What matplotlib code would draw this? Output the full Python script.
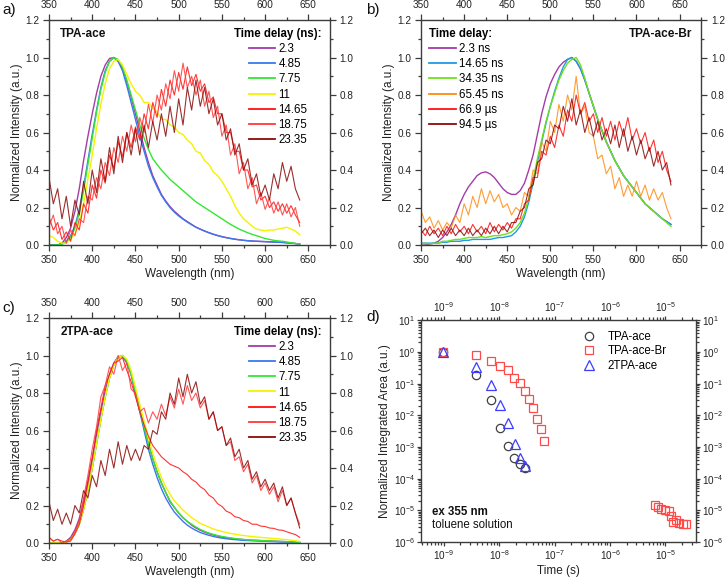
"""
Time-resolved emission spectra (a-c) and integrated area decays (d)
"""

# Imports
import matplotlib
matplotlib.use("Agg")
import matplotlib.pyplot as plt
from matplotlib.ticker import MultipleLocator, LogLocator, NullFormatter

plt.rcParams['font.family'] = ['Liberation Sans', 'DejaVu Sans']
plt.rcParams['mathtext.default'] = 'regular'
plt.rcParams['axes.unicode_minus'] = False

# Data ##################################################################################################################
WAVELENGTH = list(range(350, 645, 5))  # nm, 350 ... 640

# Panel a - TPA-ace
A_LABELS = ["2.3", "4.85", "7.75", "11", "14.65", "18.75", "23.35"]
A_2p3 = [0, 0, 0, 0.01, 0.04, 0.09, 0.18, 0.30, 0.45, 0.58,
         0.70, 0.81, 0.90, 0.96, 0.995, 1.0, 0.98, 0.94, 0.87, 0.79,
         0.70, 0.61, 0.52, 0.44, 0.37, 0.32, 0.27, 0.235, 0.205, 0.18,
         0.16, 0.14, 0.125, 0.11, 0.095, 0.085, 0.075, 0.066, 0.058, 0.051,
         0.045, 0.04, 0.035, 0.031, 0.028, 0.025, 0.023, 0.021, 0.02, 0.019,
         0.018, 0.017, 0.016, 0.015, 0.014, 0.012, 0.01, 0.008, 0.005]
A_4p85 = [0, 0, 0, 0.005, 0.02, 0.05, 0.10, 0.19, 0.31, 0.45,
          0.59, 0.72, 0.84, 0.93, 0.98, 1.0, 0.98, 0.93, 0.85, 0.76,
          0.67, 0.58, 0.50, 0.42, 0.36, 0.31, 0.265, 0.23, 0.20, 0.175,
          0.155, 0.138, 0.122, 0.108, 0.095, 0.084, 0.074, 0.065, 0.057, 0.05,
          0.044, 0.039, 0.035, 0.031, 0.028, 0.025, 0.023, 0.021, 0.02, 0.019,
          0.018, 0.017, 0.016, 0.015, 0.014, 0.012, 0.01, 0.008, 0.005]
A_7p75 = [0, 0, 0, 0.005, 0.015, 0.04, 0.09, 0.17, 0.29, 0.43,
          0.57, 0.71, 0.83, 0.92, 0.98, 1.0, 0.99, 0.95, 0.88, 0.80,
          0.72, 0.64, 0.57, 0.51, 0.46, 0.43, 0.40, 0.375, 0.35, 0.33,
          0.31, 0.29, 0.27, 0.25, 0.23, 0.215, 0.20, 0.185, 0.17, 0.155,
          0.14, 0.125, 0.11, 0.097, 0.085, 0.075, 0.065, 0.057, 0.05, 0.042,
          0.035, 0.03, 0.025, 0.022, 0.02, 0.016, 0.012, 0.008, 0.005]
A_11 = [0.05, 0.04, 0.02, 0.01, 0.01, 0.03, 0.06, 0.12, 0.22, 0.35,
        0.48, 0.62, 0.75, 0.86, 0.94, 0.98, 0.99, 0.96, 0.91, 0.86,
        0.82, 0.80, 0.76, 0.76, 0.73, 0.71, 0.67, 0.67, 0.64, 0.63,
        0.60, 0.59, 0.56, 0.54, 0.50, 0.49, 0.45, 0.43, 0.39, 0.37,
        0.34, 0.30, 0.26, 0.21, 0.17, 0.14, 0.12, 0.10, 0.085, 0.08,
        0.075, 0.08, 0.08, 0.085, 0.09, 0.095, 0.085, 0.075, 0.055]
A_14p65 = [0.15, 0.08, 0.12, 0.03, 0.07, 0.02, 0.12, 0.08, 0.22, 0.17,
           0.32, 0.25, 0.40, 0.33, 0.48, 0.41, 0.55, 0.47, 0.60, 0.52,
           0.63, 0.56, 0.70, 0.62, 0.76, 0.68, 0.83, 0.74, 0.88, 0.80,
           0.92, 0.83, 0.95, 0.85, 0.91, 0.82, 0.86, 0.76, 0.79, 0.70,
           0.70, 0.60, 0.60, 0.50, 0.50, 0.40, 0.40, 0.31, 0.32, 0.24,
           0.26, 0.20, 0.23, 0.18, 0.22, 0.17, 0.21, 0.16, 0.12]
A_18p75 = [0.10, 0.16, 0.06, 0.10, 0.01, 0.08, 0.05, 0.14, 0.12, 0.26,
           0.24, 0.36, 0.30, 0.44, 0.37, 0.52, 0.44, 0.58, 0.50, 0.64,
           0.55, 0.68, 0.60, 0.75, 0.65, 0.80, 0.72, 0.86, 0.78, 0.93,
           0.82, 0.97, 0.84, 0.90, 0.80, 0.88, 0.74, 0.82, 0.68, 0.74,
           0.58, 0.64, 0.48, 0.54, 0.38, 0.44, 0.30, 0.36, 0.22, 0.28,
           0.19, 0.25, 0.17, 0.23, 0.16, 0.22, 0.15, 0.20, 0.10]
A_23p35 = [0.36, 0.22, 0.30, 0.14, 0.26, 0.10, 0.24, 0.16, 0.34, 0.22,
           0.40, 0.28, 0.46, 0.34, 0.52, 0.38, 0.58, 0.44, 0.60, 0.48,
           0.62, 0.48, 0.64, 0.52, 0.66, 0.56, 0.70, 0.58, 0.74, 0.60,
           0.78, 0.64, 0.84, 0.72, 0.88, 0.74, 0.84, 0.70, 0.78, 0.64,
           0.70, 0.56, 0.62, 0.48, 0.54, 0.40, 0.46, 0.32, 0.38, 0.26,
           0.32, 0.24, 0.38, 0.30, 0.44, 0.34, 0.42, 0.30, 0.24]

# Panel b - TPA-ace-Br
B_LABELS = ["2.3 ns", "14.65 ns", "34.35 ns", "65.45 ns", "66.9 \u00b5s", "94.5 \u00b5s"]
B_2p3 = [0.0, 0.0, 0.005, 0.01, 0.02, 0.04, 0.07, 0.11, 0.16, 0.22,
         0.27, 0.31, 0.34, 0.37, 0.385, 0.39, 0.38, 0.36, 0.33, 0.30,
         0.28, 0.27, 0.27, 0.29, 0.33, 0.40, 0.48, 0.59, 0.70, 0.79,
         0.86, 0.91, 0.95, 0.975, 0.99, 1.0, 0.98, 0.94, 0.88, 0.81,
         0.74, 0.67, 0.61, 0.55, 0.50, 0.45, 0.41, 0.37, 0.34, 0.31,
         0.28, 0.25, 0.22, 0.20, 0.18, 0.16, 0.14, 0.125, 0.11]
B_14p65 = [0.01, 0.01, 0.01, 0.01, 0.01, 0.015, 0.015, 0.02, 0.02, 0.02,
           0.025, 0.025, 0.03, 0.03, 0.03, 0.03, 0.03, 0.035, 0.04, 0.04,
           0.045, 0.05, 0.07, 0.10, 0.15, 0.23, 0.33, 0.44, 0.55, 0.65,
           0.74, 0.82, 0.89, 0.95, 0.99, 1.0, 0.98, 0.94, 0.88, 0.81,
           0.74, 0.67, 0.61, 0.55, 0.50, 0.45, 0.41, 0.37, 0.34, 0.31,
           0.28, 0.25, 0.22, 0.20, 0.18, 0.16, 0.14, 0.125, 0.11]
B_34p35 = [0.005, 0.01, 0.005, 0.01, 0.01, 0.02, 0.02, 0.025, 0.03, 0.03,
           0.035, 0.04, 0.04, 0.04, 0.045, 0.04, 0.045, 0.05, 0.05, 0.055,
           0.06, 0.07, 0.09, 0.12, 0.17, 0.25, 0.35, 0.46, 0.56, 0.66,
           0.74, 0.81, 0.88, 0.93, 0.97, 0.99, 1.0, 0.96, 0.89, 0.81,
           0.74, 0.67, 0.61, 0.55, 0.50, 0.45, 0.41, 0.37, 0.34, 0.31,
           0.28, 0.25, 0.22, 0.20, 0.18, 0.16, 0.14, 0.12, 0.10]
B_65p45 = [0.18, 0.12, 0.15, 0.09, 0.13, 0.08, 0.12, 0.09, 0.16, 0.12,
           0.22, 0.16, 0.26, 0.20, 0.30, 0.22, 0.29, 0.23, 0.27, 0.20,
           0.22, 0.16, 0.20, 0.18, 0.28, 0.26, 0.40, 0.38, 0.55, 0.50,
           0.66, 0.60, 0.75, 0.66, 0.80, 0.72, 0.90, 0.70, 0.74, 0.60,
           0.58, 0.46, 0.48, 0.38, 0.42, 0.30, 0.36, 0.26, 0.32, 0.26,
           0.34, 0.26, 0.32, 0.24, 0.30, 0.24, 0.28, 0.20, 0.14]
B_66p9 = [0.08, 0.05, 0.10, 0.06, 0.09, 0.05, 0.10, 0.06, 0.11, 0.07,
          0.10, 0.06, 0.11, 0.07, 0.10, 0.06, 0.12, 0.07, 0.11, 0.08,
          0.12, 0.09, 0.14, 0.14, 0.22, 0.24, 0.36, 0.36, 0.50, 0.48,
          0.58, 0.52, 0.64, 0.58, 0.72, 0.66, 0.80, 0.70, 0.76, 0.66,
          0.70, 0.60, 0.68, 0.58, 0.66, 0.56, 0.66, 0.58, 0.68, 0.56,
          0.62, 0.54, 0.60, 0.50, 0.56, 0.44, 0.50, 0.40, 0.34]
B_94p5 = [0.06, 0.09, 0.05, 0.08, 0.04, 0.08, 0.05, 0.09, 0.05, 0.08,
          0.05, 0.09, 0.05, 0.08, 0.05, 0.09, 0.06, 0.10, 0.06, 0.10,
          0.07, 0.12, 0.12, 0.18, 0.20, 0.30, 0.32, 0.44, 0.46, 0.56,
          0.54, 0.64, 0.62, 0.74, 0.66, 0.78, 0.64, 0.72, 0.60, 0.68,
          0.58, 0.66, 0.56, 0.62, 0.54, 0.64, 0.52, 0.62, 0.50, 0.58,
          0.48, 0.56, 0.46, 0.52, 0.42, 0.50, 0.40, 0.44, 0.32]

# Panel c - 2TPA-ace
C_LABELS = ["2.3", "4.85", "7.75", "11", "14.65", "18.75", "23.35"]
C_2p3 = [0, 0, 0, 0, 0.01, 0.03, 0.07, 0.13, 0.22, 0.33,
         0.45, 0.58, 0.70, 0.81, 0.90, 0.96, 0.995, 0.995, 0.96, 0.90,
         0.80, 0.71, 0.62, 0.53, 0.45, 0.38, 0.32, 0.27, 0.22, 0.19,
         0.16, 0.135, 0.115, 0.095, 0.08, 0.068, 0.058, 0.05, 0.043, 0.037,
         0.032, 0.028, 0.025, 0.022, 0.02, 0.018, 0.016, 0.015, 0.014, 0.013,
         0.012, 0.011, 0.01, 0.009, 0.008, 0.007, 0.006, 0.005, 0.004]
C_4p85 = [0, 0, 0, 0, 0.005, 0.02, 0.05, 0.10, 0.18, 0.28,
          0.40, 0.53, 0.66, 0.78, 0.88, 0.95, 0.99, 1.0, 0.97, 0.90,
          0.80, 0.70, 0.60, 0.50, 0.42, 0.35, 0.29, 0.24, 0.20, 0.165,
          0.14, 0.115, 0.095, 0.08, 0.067, 0.056, 0.048, 0.041, 0.035, 0.03,
          0.026, 0.023, 0.02, 0.018, 0.016, 0.014, 0.013, 0.012, 0.011, 0.01,
          0.009, 0.008, 0.007, 0.006, 0.005, 0.005, 0.004, 0.003, 0.002]
C_7p75 = [0, 0, 0, 0, 0.005, 0.02, 0.05, 0.10, 0.18, 0.28,
          0.40, 0.53, 0.66, 0.78, 0.88, 0.95, 0.99, 1.0, 0.97, 0.90,
          0.81, 0.71, 0.62, 0.53, 0.45, 0.38, 0.32, 0.27, 0.225, 0.19,
          0.16, 0.135, 0.115, 0.10, 0.085, 0.072, 0.062, 0.053, 0.046, 0.04,
          0.035, 0.031, 0.027, 0.024, 0.021, 0.019, 0.017, 0.015, 0.014, 0.013,
          0.012, 0.011, 0.01, 0.009, 0.008, 0.007, 0.006, 0.005, 0.004]
C_11 = [0, 0, 0, 0, 0.005, 0.02, 0.05, 0.10, 0.18, 0.28,
        0.40, 0.53, 0.66, 0.78, 0.88, 0.95, 0.99, 1.0, 0.98, 0.92,
        0.83, 0.74, 0.65, 0.56, 0.48, 0.41, 0.35, 0.30, 0.26, 0.225,
        0.20, 0.175, 0.155, 0.135, 0.12, 0.105, 0.095, 0.085, 0.075, 0.068,
        0.062, 0.056, 0.051, 0.047, 0.043, 0.04, 0.037, 0.034, 0.032, 0.03,
        0.028, 0.026, 0.024, 0.022, 0.02, 0.018, 0.015, 0.012, 0.008]
C_14p65 = [0.03, 0.01, 0.02, 0.01, 0.005, 0.01, 0.05, 0.10, 0.20, 0.32,
           0.45, 0.60, 0.72, 0.84, 0.90, 0.96, 0.97, 0.99, 0.92, 0.86,
           0.78, 0.70, 0.63, 0.57, 0.52, 0.49, 0.46, 0.44, 0.42, 0.41,
           0.40, 0.38, 0.365, 0.34, 0.325, 0.30, 0.285, 0.255, 0.24, 0.21,
           0.195, 0.17, 0.16, 0.14, 0.135, 0.12, 0.115, 0.10, 0.1, 0.09,
           0.088, 0.08, 0.078, 0.07, 0.068, 0.06, 0.052, 0.045, 0.03]
C_18p75 = [0.03, 0.01, 0.02, 0.0, 0.01, 0.02, 0.06, 0.12, 0.24, 0.36,
           0.50, 0.62, 0.78, 0.84, 0.94, 0.90, 1.0, 0.92, 0.96, 0.82,
           0.80, 0.70, 0.72, 0.64, 0.70, 0.66, 0.74, 0.68, 0.78, 0.72,
           0.82, 0.74, 0.84, 0.76, 0.80, 0.72, 0.76, 0.66, 0.70, 0.60,
           0.62, 0.52, 0.54, 0.44, 0.46, 0.38, 0.42, 0.32, 0.36, 0.28,
           0.32, 0.26, 0.30, 0.22, 0.28, 0.20, 0.24, 0.16, 0.10]
C_23p35 = [0.22, 0.12, 0.18, 0.10, 0.16, 0.10, 0.20, 0.16, 0.28, 0.24,
           0.36, 0.30, 0.44, 0.36, 0.50, 0.40, 0.54, 0.42, 0.52, 0.44,
           0.50, 0.44, 0.52, 0.50, 0.60, 0.58, 0.70, 0.66, 0.80, 0.74,
           0.88, 0.78, 0.90, 0.80, 0.86, 0.74, 0.78, 0.66, 0.70, 0.60,
           0.62, 0.52, 0.56, 0.46, 0.50, 0.40, 0.44, 0.34, 0.38, 0.30,
           0.34, 0.28, 0.32, 0.24, 0.30, 0.20, 0.24, 0.16, 0.08]

# Panel d - normalized integrated area vs time
D_TPA_T = [0.95e-9, 3.9e-9, 7.1e-9, 1.05e-8, 1.43e-8, 1.88e-8, 2.34e-8, 2.9e-8]
D_TPA_Y = [1.0, 0.184, 0.031, 0.0040, 0.00111, 4.4e-4, 2.95e-4, 2.1e-4]
D_BR_T = [0.95e-9, 3.9e-9, 7.1e-9, 1.05e-8, 1.45e-8, 1.88e-8, 2.34e-8, 2.9e-8, 3.5e-8, 4.13e-8,
          4.73e-8, 5.6e-8, 6.5e-8,
          6.5e-6, 7.4e-6, 8.4e-6, 1.0e-5, 1.18e-5, 1.26e-5, 1.36e-5, 1.55e-5, 1.78e-5, 2.1e-5, 2.4e-5]
D_BR_Y = [1.0, 0.83, 0.535, 0.372, 0.279, 0.151, 0.101, 0.0576, 0.0329, 0.0171,
          0.0079, 0.0038, 0.00149,
          1.47e-5, 1.23e-5, 1.14e-5, 1.05e-5, 9.5e-6, 6.5e-6, 4.4e-6, 5.0e-6, 4.0e-6, 3.8e-6, 3.6e-6]
D_2TPA_T = [0.95e-9, 3.9e-9, 7.1e-9, 1.05e-8, 1.47e-8, 1.9e-8, 2.4e-8, 2.96e-8]
D_2TPA_Y = [1.0, 0.336, 0.089, 0.0204, 0.0056, 0.00126, 4.55e-4, 2.6e-4]
D_LABELS = ["TPA-ace", "TPA-ace-Br", "2TPA-ace"]

# Styles ################################################################################################################
AXCOL = "#3c3c3c"
COLS_AC = ["#a43ca8", "#3a78ee", "#33e633", "#f5f200", "#ff1010", "#ff3838", "#8a0a0a"]
COLS_B = ["#a43ca8", "#1e9be6", "#6fe01e", "#ff8a10", "#ff1010", "#8a0a0a"]
NOISY_AC = [False, False, False, False, True, True, True]
NOISY_B = [False, False, False, True, True, True]
TXT = 8.3


# Helpers ###############################################################################################################
def StyleAxes(ax, pad=3.0):
    '''
    Origin-like frame: outward ticks on all four sides, labels on all four sides
    '''
    for s in ax.spines.values():
        s.set_color(AXCOL)
        s.set_linewidth(1.0)
    ax.tick_params(which="both", direction="out", top=True, right=True,
                   labeltop=True, labelright=True, colors=AXCOL, labelcolor="#222222",
                   labelsize=7.2, width=0.9, pad=pad)
    ax.tick_params(which="major", length=4)
    ax.tick_params(which="minor", length=2.5)


def SpectraPanel(ax, series, labels, colors, noisy, title, name, legendLoc, nameX):
    '''
    Spectra panel with legend and compound name
    '''
    for vals, lab, col, nz in zip(series, labels, colors, noisy):
        if nz:
            ax.plot(WAVELENGTH, vals, color=col, lw=0.8, alpha=0.85, label=lab)
        else:
            ax.plot(WAVELENGTH, vals, color=col, lw=1.0, label=lab)
    ax.set_xlim(350, 675)
    ax.set_ylim(0, 1.2)
    ax.xaxis.set_major_locator(MultipleLocator(50))
    ax.xaxis.set_minor_locator(MultipleLocator(25))
    ax.yaxis.set_major_locator(MultipleLocator(0.2))
    ax.yaxis.set_minor_locator(MultipleLocator(0.1))
    ax.yaxis.set_major_formatter(plt.FuncFormatter(lambda v, p: "%.1f" % v))
    StyleAxes(ax)
    ax.set_xlabel("Wavelength (nm)", fontsize=8.5, color="#222222", labelpad=2)
    ax.set_ylabel("Normalized Intensity (a.u.)", fontsize=8.5, color="#222222", labelpad=2)
    leg = ax.legend(loc=legendLoc, frameon=False, fontsize=TXT, title=title,
                    title_fontproperties={"weight": "bold", "size": TXT},
                    handlelength=2.3, handletextpad=0.3, labelspacing=0.27,
                    borderaxespad=0.3, alignment="center" if legendLoc == "upper right" else "left")
    for h in leg.get_lines():
        h.set_linewidth(1.3)
        h.set_alpha(1.0)
    ax.text(nameX, 0.94, name, transform=ax.transAxes, fontsize=8.5, fontweight="bold",
            ha="left" if nameX < 0.5 else "right", va="center", color="#111111")


# Figure ################################################################################################################
fig = plt.figure(figsize=(7.26, 5.82), dpi=100)
axA = fig.add_axes([0.0675, 0.579, 0.387, 0.3866])
axB = fig.add_axes([0.580, 0.579, 0.3857, 0.3866])
axC = fig.add_axes([0.0675, 0.067, 0.387, 0.3866])
axD = fig.add_axes([0.580, 0.0687, 0.379, 0.381])

SpectraPanel(axA, [A_2p3, A_4p85, A_7p75, A_11, A_14p65, A_18p75, A_23p35], A_LABELS, COLS_AC, NOISY_AC,
             "Time delay (ns):", "TPA-ace", "upper right", 0.04)
SpectraPanel(axB, [B_2p3, B_14p65, B_34p35, B_65p45, B_66p9, B_94p5], B_LABELS, COLS_B, NOISY_B,
             "Time delay:", "TPA-ace-Br", "upper left", 0.97)
SpectraPanel(axC, [C_2p3, C_4p85, C_7p75, C_11, C_14p65, C_18p75, C_23p35], C_LABELS, COLS_AC, NOISY_AC,
             "Time delay (ns):", "2TPA-ace", "upper right", 0.04)

# Panel d
axD.set_xscale("log")
axD.set_yscale("log")
axD.plot(D_TPA_T, D_TPA_Y, "o", ms=6, mfc="none", mec="#404040", mew=0.9, label=D_LABELS[0])
axD.plot(D_BR_T, D_BR_Y, "s", ms=6, mfc="none", mec="#ff4a4a", mew=0.9, label=D_LABELS[1])
axD.plot(D_2TPA_T, D_2TPA_Y, "^", ms=6.5, mfc="none", mec="#3c3cff", mew=0.9, label=D_LABELS[2])
axD.set_xlim(3.9e-10, 3.6e-5)
axD.set_ylim(1e-6, 1e1)
for a in (axD.xaxis, axD.yaxis):
    a.set_major_locator(LogLocator(base=10, numticks=20))
    a.set_minor_locator(LogLocator(base=10, subs=range(2, 10), numticks=20))
    a.set_minor_formatter(NullFormatter())
StyleAxes(axD, pad=1.5)
axD.tick_params(which="major", length=3)
axD.tick_params(which="minor", length=2)
axD.set_xlabel("Time (s)", fontsize=8.5, color="#222222", labelpad=2)
axD.set_ylabel("Normalized Integrated Area (a.u.)", fontsize=8.5, color="#222222", labelpad=2)
axD.legend(loc="upper right", frameon=False, fontsize=TXT, handletextpad=0.6,
           labelspacing=0.22, borderaxespad=0.5, bbox_to_anchor=(0.93, 1.0))
axD.text(0.04, 0.135, "ex 355 nm", transform=axD.transAxes, fontsize=TXT, fontweight="bold",
         va="center", color="#111111")
axD.text(0.04, 0.075, "toluene solution", transform=axD.transAxes, fontsize=TXT,
         va="center", color="#111111")

# Panel letters
for lab, x, y in [("a)", 0.003, 0.982), ("b)", 0.504, 0.982), ("c)", 0.003, 0.47), ("d)", 0.504, 0.456)]:
    fig.text(x, y, lab, fontsize=11, va="center", ha="left", color="#111111")

fig.savefig("out.png", dpi=100)
